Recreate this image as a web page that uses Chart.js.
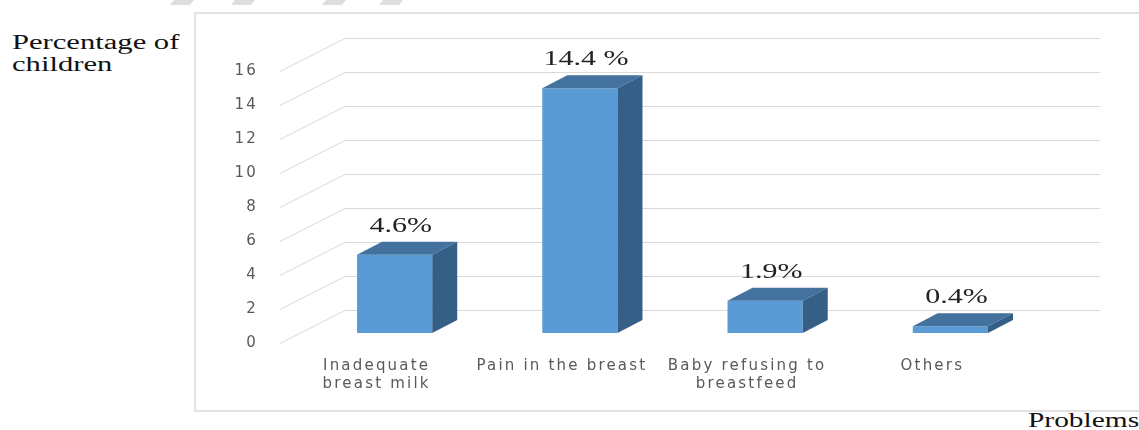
<!DOCTYPE html>
<html>
<head>
<meta charset="utf-8">
<title>Breastfeeding problems</title>
<script src="https://cdn.jsdelivr.net/npm/chart.js@4.4.1/dist/chart.umd.min.js"></script>
<style>
    html, body { margin: 0; padding: 0; background: #fff; }
    #wrap { position: relative; width: 1139px; height: 430px; overflow: hidden; }
    #frame {
        position: absolute; left: 194px; top: 12px; width: 960px; height: 396px;
        border: 2px solid #e2e2e2; border-right: none;
    }
    .dash { position: absolute; top: 0; width: 20px; height: 5px; background: #dedede; transform: skewX(-40deg); }
    .title {
        position: absolute; font-family: "Liberation Serif", "Times New Roman", serif;
        font-size: 20px; line-height: 22px; color: #111; white-space: nowrap;
        transform-origin: 0 0;
    }
    #yTitle { left: 12px; top: 31px; transform: scaleX(1.53); }
    #xTitle { left: 1028px; top: 409px; transform: scaleX(1.47); }
    #box { position: absolute; left: 0; top: 0; width: 1139px; height: 430px; }
</style>
</head>
<body>
<div id="wrap">
    <div class="dash" style="left:172px"></div>
    <div class="dash" style="left:233px"></div>
    <div class="dash" style="left:324px"></div>
    <div class="dash" style="left:381px"></div>
    <div id="frame"></div>
    <div class="title" id="yTitle">Percentage of<br>children</div>
    <div class="title" id="xTitle">Problems</div>
    <div id="box"><canvas id="problemsChart"></canvas></div>
</div>
<script>
// Chart data
const categories = [
    ['Inadequate', 'breast milk'],
    ['Pain in the breast'],
    ['Baby refusing to', 'breastfeed'],
    ['Others']
];
const percentages = [4.6, 14.4, 1.9, 0.4];
const valueLabels = ['4.6%', '14.4 %', '1.9%', '0.4%'];
const yMin = 0;
const yMax = 16;
const yStep = 2;

// 3D look
const DEPTH_X = 25;
const DEPTH_Y = 13;
const FRONT_COLOR = '#5B9BD5';
const TOP_COLOR = '#43729E';
const SIDE_COLOR = '#365F87';

// Back wall + floor gridlines drawn behind the bars
const wallPlugin = {
    id: 'wall',
    beforeDraw(chart) {
        chart.ctx.letterSpacing = '2.2px';
    },
    beforeDatasetsDraw(chart) {
        const { ctx, chartArea, scales } = chart;
        const y = scales.y;
        ctx.save();
        ctx.letterSpacing = '0px';
        ctx.strokeStyle = '#d9d9d9';
        ctx.lineWidth = 1;
        y.ticks.forEach(t => {
            const py = Math.round(y.getPixelForValue(t.value)) + 0.5;
            ctx.beginPath();
            ctx.moveTo(chartArea.left - 22, py + 10);
            ctx.lineTo(chartArea.left + 43, py - 23);
            ctx.lineTo(chartArea.right + 57, py - 23);
            ctx.stroke();
        });
        ctx.restore();
    },
    afterDraw(chart) {
        chart.ctx.letterSpacing = '0px';
    }
};

// Top / side faces of each bar and the value labels
const bar3dPlugin = {
    id: 'bar3d',
    afterDatasetsDraw(chart) {
        const { ctx } = chart;
        const meta = chart.getDatasetMeta(0);
        ctx.save();
        ctx.letterSpacing = '0px';
        meta.data.forEach((bar, i) => {
            const left = bar.x - bar.width / 2;
            const right = bar.x + bar.width / 2;
            const top = bar.y;
            const base = bar.base;

            ctx.fillStyle = TOP_COLOR;
            ctx.beginPath();
            ctx.moveTo(left, top);
            ctx.lineTo(right, top);
            ctx.lineTo(right + DEPTH_X, top - DEPTH_Y);
            ctx.lineTo(left + DEPTH_X, top - DEPTH_Y);
            ctx.closePath();
            ctx.fill();

            ctx.fillStyle = SIDE_COLOR;
            ctx.beginPath();
            ctx.moveTo(right, top);
            ctx.lineTo(right + DEPTH_X, top - DEPTH_Y);
            ctx.lineTo(right + DEPTH_X, base - DEPTH_Y);
            ctx.lineTo(right, base);
            ctx.closePath();
            ctx.fill();

            ctx.save();
            ctx.translate(bar.x + 6, top - DEPTH_Y - 10);
            ctx.scale(1.5, 1);
            ctx.font = '20px "Liberation Serif", "Times New Roman", serif';
            ctx.fillStyle = '#222';
            ctx.textAlign = 'center';
            ctx.textBaseline = 'alphabetic';
            ctx.fillText(valueLabels[i], 0, 0);
            ctx.restore();
        });
        ctx.restore();
    }
};

const tickFont = { family: '"DejaVu Sans", sans-serif', size: 15 };

new Chart(document.getElementById('problemsChart').getContext('2d'), {
    type: 'bar',
    data: {
        labels: categories,
        datasets: [{
            label: 'Percentage of children',
            data: percentages,
            backgroundColor: FRONT_COLOR,
            borderWidth: 0,
            barPercentage: 0.406,
            categoryPercentage: 1.0
        }]
    },
    options: {
        responsive: true,
        maintainAspectRatio: false,
        animation: false,
        layout: {
            padding: { left: 200, right: 96, top: 61, bottom: 0 }
        },
        plugins: {
            legend: { display: false },
            tooltip: { enabled: false }
        },
        scales: {
            y: {
                min: yMin,
                max: yMax,
                ticks: {
                    stepSize: yStep,
                    padding: 44,
                    labelOffset: 10,
                    color: '#595959',
                    font: tickFont
                },
                grid: { display: false, drawTicks: false },
                border: { display: false },
                afterFit(scale) { scale.width = 102; }
            },
            x: {
                ticks: {
                    padding: 24,
                    labelOffset: -18,
                    maxRotation: 0,
                    minRotation: 0,
                    autoSkip: false,
                    color: '#595959',
                    font: tickFont
                },
                grid: { display: false, drawTicks: false },
                border: { display: false },
                afterFit(scale) { scale.height = 97; }
            }
        }
    },
    plugins: [wallPlugin, bar3dPlugin]
});
</script>
</body>
</html>
